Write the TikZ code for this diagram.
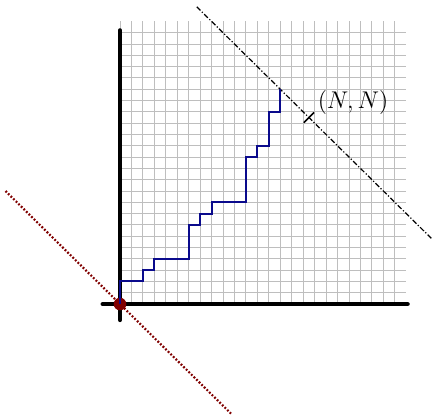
\documentclass[tikz,border=0pt]{standalone}
\usepackage{amsmath}
\usepackage{tikz}
\usepackage{xcolor}
\usetikzlibrary{calc}
\definecolor{cGrid}{RGB}{190,190,190}
\definecolor{cPath}{RGB}{10,10,140}
\definecolor{cDot}{RGB}{128,0,0}
\tikzset{
	gridline/.style ={cGrid, line width=0.5pt},
	axisline/.style ={line width=2.3pt, line cap=round},
	diagline/.style ={line width=0.6pt, dash pattern=on 2.6pt off 1pt on 0.6pt off 1pt},
	dotline/.style  ={cDot, line width=1.1pt, dash pattern=on 0.9pt off 0.9pt},
	lattice/.style  ={cPath, line width=1pt},
}
\begin{document}
\begin{tikzpicture}[x=0.2cm, y=0.1974cm]
	\useasboundingbox (-10.48,-9.73) rectangle (27.42,26.9);
	% grid
	\foreach \i in {0,...,24} {
		\draw[gridline] (\i,0) -- (\i,25);
		\draw[gridline] (0,\i) -- (25,\i);
	}
	% anti-diagonal x+y=2N
	\coordinate (dA) at (6.7,26.3);
	\coordinate (dB) at (27.3,5.7);
	\draw[diagline] (dA) -- (dB);
	\coordinate (NN) at (16.5,16.5);
	\draw[line width=0.8pt] ($(NN)+(-0.45,-0.45)$) -- ($(NN)+(0.45,0.45)$);
	\node[font=\large, inner sep=0pt] (lbl) at (20.35,17.8) {$(N,N)$};
	% axes
	\coordinate (O) at (0,0);
	\draw[axisline] (-1.5,0) -- (25.1,0);
	\draw[axisline] (0,-1.4) -- (0,24.2);
	% x+y=0
	\coordinate (rA) at (-10,10);
	\coordinate (rB) at (9.7,-9.7);
	\draw[dotline] (rA) -- (rB);
	\fill[cDot] (O) circle[radius=0.11cm];
	% lattice path
	\draw[lattice] (O) -- (0,2) -- (2,2) -- (2,3) -- (3,3) -- (3,4) -- (6,4) -- (6,7) -- (7,7) -- (7,8) -- (8,8) -- (8,9)
		-- (11,9) -- (11,13) -- (12,13) -- (12,14) -- (13,14) -- (13,17) -- (14,17) -- (14,19);
\end{tikzpicture}
\end{document}
